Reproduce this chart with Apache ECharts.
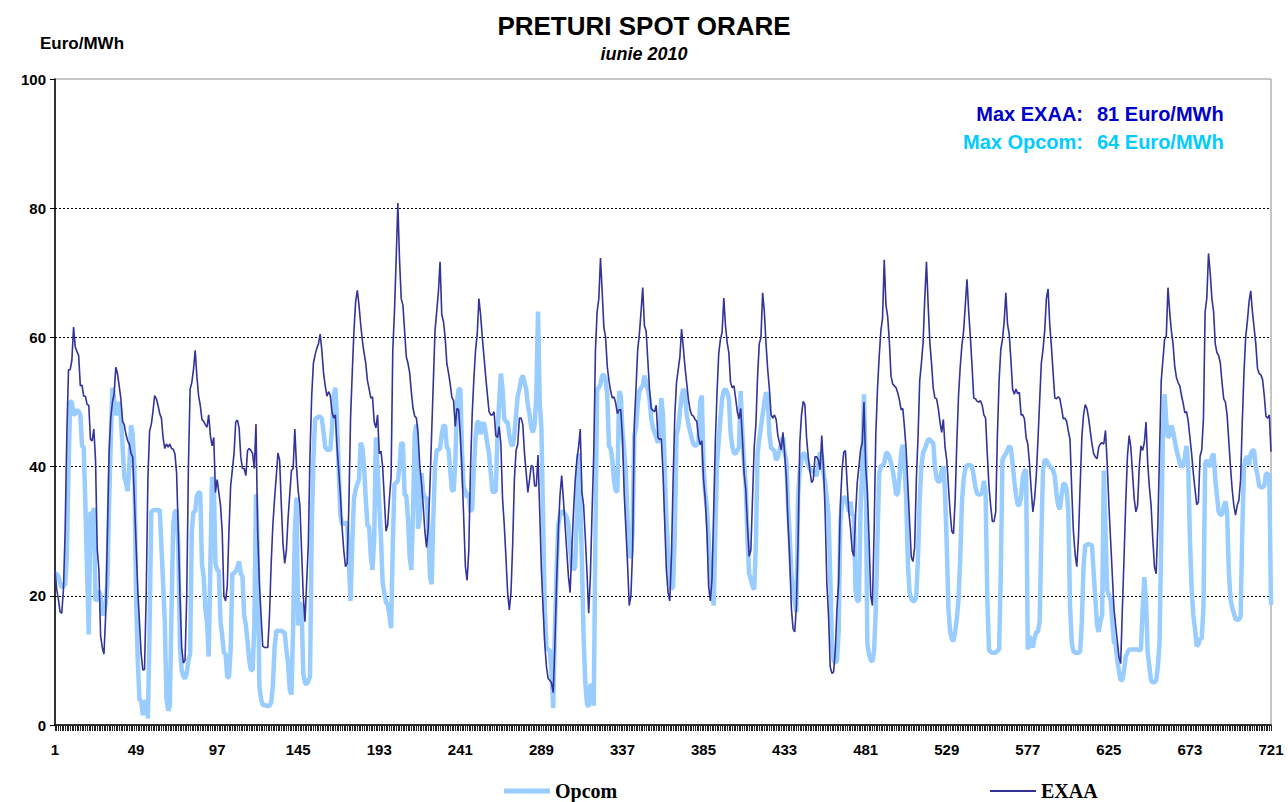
<!DOCTYPE html>
<html>
<head>
<meta charset="utf-8">
<script src="https://cdn.jsdelivr.net/npm/echarts@6/dist/echarts.min.js"></script>
<style>
html,body{margin:0;padding:0;background:#fff;}
#c{width:1288px;height:802px;}
</style>
</head>
<body>
<div id="c"></div>
<script>
// Hourly EXAA prices, June 2010, one row per day (Euro/MWh)
const exaaDays = [
[24,21,19.5,17.5,17.3,21,30,45,55,55,56.5,61.6,58.5,57.8,57.2,52.5,52.6,50.9,50.9,49.6,49.5,44.2,44,45.8],
[41,27.2,24,13.8,12,11,17,29,42,47.5,50,51.2,55.4,54.4,52.5,50.5,47,46.5,45,44,43.5,42,41.5,35],
[28,21,16,11,8.5,8.6,20,38,45.5,46.5,48.5,51,50.5,49.5,48.2,47.5,44.5,42.8,43.5,43,43.5,42.8,42.7,42],
[39,30,20,12,9.6,10,20,40,52,53,55,58,54,51,49.5,47.3,47,46.5,46.1,48,44.8,43.2,44.5,36],
[38,36,34,30,20,19.2,21.5,30,37,39.5,42,46.9,47.2,46,41.5,39.7,39.7,38.6,42.5,42.8,42.5,42,39.7,46.6],
[30,22,17,12.2,12,12,12,17,25,31,35,38.4,42.1,41,34.1,28,25,27,32,35.7,39.4,39.7,45.8,40],
[36.2,34,27,20,16,22,28,42,51,56,57.3,58.3,59,60.5,58,54.5,52.5,50.9,51.6,51,48.5,47.5,48,43],
[39.4,35.5,30.5,27,24.5,25,34,47.5,54.5,61,65.5,67.3,65,62,59.5,57.6,56,53.3,52,50.6,50.8,46.9,46,48],
[42,42.4,40,35,30,31,35,38.4,58,64,72,80.8,72,66,65,61,57,56,54.5,51.5,49,47.8,47.5,45],
[40,37.5,34,30,27.5,30.5,37,45,53,61,64,67,71.7,63.5,62.5,60,56,54.5,52.8,50.7,50.2,46.2,49,48.8],
[44.8,39.4,32,24.5,22.4,27,39.4,48,53.5,58,60.5,66,63.5,60,57,54,51.2,48.5,48,48,48.5,44.8,44.5,46.2],
[43.5,35,31,26,20.5,17.8,20.5,28,38,42.5,43.5,47.5,47.5,46.5,42,39,36,38,40.2,40,37,37,41.8,33],
[24,18,12.5,9,7.2,6.9,6.5,5,12.5,22,30,35.5,38.6,35,31,27,23,20.5,27,33,37.8,41,43,45.8],
[36,34,29,23.5,17.3,23,33,42,58,64,66,72.3,67,61.5,60,55.5,53.3,51.7,50.6,50.8,49.8,48.2,48.8,48.8],
[44.5,36,30.5,25,18.5,20,27,46.5,52,58,60.5,64,67.7,61.8,61,56.5,52,49,48.7,48.5,49.5,44.5,44.2,44.3],
[39,31.4,24,20.5,19.2,26,38,48,53,55,57,61.3,58.5,55.5,53,50.5,48.8,48,47.8,47.3,47,44.5,43.4,44],
[38,35,30,21.5,19.2,22.5,33,44,51.5,57.5,59.7,60.8,66.1,61.8,59.2,57.6,53,52.2,52.5,50.6,48.5,47.4,49,44.5],
[39,36.5,31,26.1,27,35,43,46.5,54,59,60,66.9,64,59,55,52,48,47.5,48,47.3,44.8,43.7,42.6,45.3],
[42.1,38.4,31.4,26,18.1,14.9,14.4,18.5,28.8,43.7,48,50.1,49.6,44.5,41.5,39.3,37.5,38,41.5,41.5,41,39.5,44.8,40],
[33,22,17,9,8,8.2,11.5,18,22,34,39.4,42.2,42.5,37.5,33,30.5,27,26.1,32.5,37.5,40,42.6,43.7,50],
[40,36.2,28.8,20,18.5,30,45,52,57,61,63,72,65,63.3,59.5,54,52.8,52.5,52.2,51.4,50.3,48.8,49,46],
[42.5,37,31.5,26,25.3,27.5,38,44.5,53.3,56,59.2,66.1,71.7,65,59.2,56,52.2,50.6,50.5,49,46.9,45.3,47.3,43],
[41,37,33,30,29.6,35,44,51,55.5,58.8,61,65,69,64,60,55.5,50.6,50.5,50.1,50,50.2,49.5,48,47.5],
[42,37,34,31.5,31.5,33,44.8,53.3,58.1,59.7,62.4,66.9,62,60.5,56.5,52,51.2,52,51.3,51.5,48,48,47.4,44.5],
[43.5,40.5,36.5,33,35,38.5,44,50,56,58.1,61,66,67.5,62,58.5,54.5,50.6,50.5,50.8,50.5,49,47.4,47.5,47],
[45.5,44.2,36.5,30,26.5,24.5,29,37,44.5,48,49.6,49,47.5,45.5,43.5,42,41.5,41.2,43,43.5,43.7,43.5,45.6,40.5],
[34.1,28.8,23.4,18.1,15.4,13,10.5,9.5,18,26,34.5,41.6,44.8,43,39,35,33,34,40,43.2,42.5,43.7,46.9,40.5],
[36.8,34,28.8,24.5,23.4,31,42.1,53.3,56.5,59.7,60.2,67.7,64,61,59,55.5,53.8,53,52.5,51,49.8,48.3,48.5,47],
[44.5,42,39,36.5,34.1,34.5,41.6,42.6,47.4,64,66.1,73,70,66,64,59,57.6,57.2,56,53,50.5,50,48,44],
[40,36.5,34,32.5,34,34.8,38,47,54.5,60,62.5,65.5,67.2,64,61.5,59,55.2,54.4,54.2,53.5,51,47.8,47.5,48],
[42.3]
];

// Hourly Opcom prices, June 2010, one row per day (Euro/MWh)
const opcomDays = [
[23.4,23.4,23,22,21.3,21.5,21.8,26,39.4,50.1,50,48,48.2,48.8,48.5,48,43.2,43,34,23.4,14,33,32,33.6],
[19.2,19.5,20.8,20,17,17.5,18.6,22,34,43.7,52.2,50.5,48,48.5,50,47.5,43.2,38.4,37.5,36.2,40,46.4,45,40],
[20,10,4,3.7,1.5,3.5,3.7,1,15,33,33.2,33.3,33.3,33.2,33.4,27.7,22,16,4,2.2,3,18,31,33],
[33.2,28,12,8.5,7.5,7.2,8,10,11,30,33,33,35.5,36,36,25,23,18,16,10.6,25,38.4,37.5,25],
[24,23.8,16,13.8,11.2,11,7.4,7.4,11.7,23.4,23.5,23.8,24.5,25.3,23.4,23,17,15.5,13,10,8.5,8.5,15,35.7],
[27.7,6,4,3.1,3.1,3,2.9,3,3.5,6,12,14.5,14.6,14.6,14.6,14.4,14.3,11.7,9.5,5.5,4.7,15,30,35.2],
[15.4,19,18,8,6.5,6.3,6.8,7.5,30,41,47.4,47.5,47.7,47.7,47.4,45.3,43,42.6,42.6,42.6,46,51,52.2,47],
[39.4,32.5,31,31.4,31,31.5,25,19.2,28,35,36.5,37.3,38,43.7,43,40,35,30.9,30.7,26,24,28.8,44.5,40],
[34.1,29,22,20.5,19,18.6,17,15,28,37.3,37.5,37.8,40,43.7,43.5,35.7,35.5,32,26,24,33,45,46.5,30.4],
[32,39,36,35.2,35.2,31,23,21.8,32,40,42.5,42.6,42.8,45,46.4,46.2,43,42.6,39.5,36.4,36.2,40.3,50,52],
[52,42.1,36.8,36.2,35.2,36,33,33.5,39.4,44.5,46.9,46.9,45,46.5,46.8,45.3,43.5,42,39,36.2,36,36.3,45,50.1],
[54.4,52,47.4,46.9,46.9,45,43.5,43.2,45,48,51,52,53.5,54.1,53,52,49.5,48,46,45.3,46.5,51,64,50],
[46,32,18,12,11.7,11.5,8,2.6,15,24,31,32.5,33,33,32.6,32.2,31,27.5,24.5,24,24.5,33,42,35],
[25,13.5,6.5,3.3,2.8,6.3,6,3,30,52,52.2,52.8,54.1,54.2,53.5,51,43.2,42.8,41,37.8,36.2,36.2,51.7,51],
[45.5,42.3,39,32,26.1,26.1,30,44.8,46,49.5,51.7,52.2,52.5,54.1,53,52,50.5,47.5,46,45.3,44.5,43.7,45,50.6],
[48,40,32,27,22.5,21,21.5,30,44.8,46,48.5,50.8,52,51.5,48,46.6,45.5,44.3,43.5,43.2,43.4,43.7,50,51],
[40,36,33.5,29,23.5,21,18.5,30,40.5,44,47.5,50.5,51.7,52,51.5,50.5,45.3,43.2,42.1,42,42.5,43,51.7,45],
[40.5,37,29,23.4,22.5,21.5,21,28,42,44.2,46.2,48,50,51.5,50.8,45,42.8,42.7,42.4,41,41.5,42.5,43.5,44.5],
[42,41,34,29.5,23.4,21,19,17.5,35.5,39.5,41,42.1,41.9,41,40.3,39.6,39.4,39.2,39.2,38.5,40.5,42.2,41.8,39],
[37.5,35.2,32.5,23.4,12.8,10.1,9.6,10,14.4,31.4,34.1,35.2,35.2,34.5,33,34.6,32.5,32.5,20.8,19.2,19.2,34.1,39.4,51.2],
[40,12.5,11,10.1,9.8,11.5,18,28.8,38.9,40,40.2,40.5,42.1,42.1,41.5,40.5,39.4,37.8,35.7,35.7,38.4,42.1,43.4,40],
[35,25,20.5,19.5,19.2,19.2,20,26,35,40,42.2,42.7,43.5,44.2,44.2,43.8,43.7,40,38.2,37.6,37.8,39.5,40,36],
[28,18,14.5,13.3,13,14.5,16.5,19.5,26,34.5,38,39.7,40.2,40.2,40.2,40,38.5,36.8,35.8,35.7,35.7,36,37.8,36],
[20,11.7,11.3,11.2,11.2,11.2,11.5,11.7,23.4,41,41.6,42,42.6,43.2,42.8,40.5,37.8,35.7,34.1,34,35.2,38.4,39.4,39.4],
[11.7,13.8,12.5,12,13.5,14.4,14.4,16,28.8,39.4,41,41,40.5,40,39.8,39.4,38.5,35.7,34,33.4,35.5,37.3,37.3,36.5],
[33,18.5,12.8,11.4,11.2,11.2,11.2,11.4,16,24.5,27.8,27.9,28,27.9,27.8,23.5,19.5,15.5,14.4,16,17,39.4,30,20.8],
[20.2,19.5,16,12.8,12.5,10,8.3,6.9,7,8.5,10.6,11.2,11.7,11.7,11.7,11.7,11.7,11.7,11.6,11.7,18.1,22.9,19.2,11.2],
[9,6.9,6.6,6.6,6.9,9,12.8,28.8,44.8,51.2,47,44.5,44.8,46.4,45.5,44,42.6,41.6,40.5,40,40.2,41.5,43.2,40],
[28.8,21,17,14.9,12.2,12.5,13.3,13.5,18.1,40.5,41,40.3,40,41.5,42,38,35.5,33,32.5,32.6,33.8,34.6,33,24],
[19.5,18.2,17.3,16.4,16.3,16.3,16.8,30,40,41.2,41.6,40.2,42,42.5,42.5,39.8,38.7,37,36.8,36.8,37,38.9,38.9,38.4],
[18.6]
];

const seriesNames = ['Opcom', 'EXAA'];
const maxLabels = ['Max EXAA:', 'Max Opcom:'];
const maxValues = ['81 Euro/MWh', '64 Euro/MWh'];
const yTicks = [0, 20, 40, 60, 80, 100];

const exaa = [].concat(...exaaDays);
const opcom = [].concat(...opcomDays);
const hours = [];
for (let i = 1; i <= exaa.length; i++) hours.push(String(i));

const SANS = "'Liberation Sans', Arial, sans-serif";
const SERIF = "'Liberation Serif', 'Times New Roman', serif";

const chart = echarts.init(document.getElementById('c'), null, {renderer: 'svg'});
chart.setOption({
  animation: false,
  backgroundColor: '#ffffff',
  title: [
    {text: 'PRETURI SPOT ORARE', left: 'center', top: 13, padding: 0,
     textStyle: {fontFamily: SANS, fontWeight: 'bold', fontSize: 26, color: '#000'}},
    {text: 'iunie 2010', left: 'center', top: 45, padding: 0,
     textStyle: {fontFamily: SANS, fontWeight: 'bold', fontStyle: 'italic', fontSize: 18, color: '#000'}}
  ],
  grid: {left: 55, right: 17, top: 79, bottom: 77, show: true,
         borderColor: '#8c8c8c', borderWidth: 1, backgroundColor: 'transparent'},
  xAxis: {
    type: 'category', data: hours, boundaryGap: false,
    axisLine: {lineStyle: {color: '#000', width: 1.5}},
    axisTick: {show: true, interval: 0, length: 6, lineStyle: {color: '#222', width: 1}},
    axisLabel: {interval: 47, margin: 17, fontFamily: SANS, fontWeight: 'bold', fontSize: 15, color: '#000'},
    splitLine: {show: false}
  },
  yAxis: {
    type: 'value', min: yTicks[0], max: yTicks[yTicks.length - 1], interval: 20,
    axisLine: {show: true, lineStyle: {color: '#000', width: 1.5}},
    axisTick: {show: true, length: 5, lineStyle: {color: '#000'}},
    axisLabel: {margin: 9, fontFamily: SANS, fontWeight: 'bold', fontSize: 15, color: '#000'},
    splitLine: {show: true, showMinLine: false, showMaxLine: false,
                lineStyle: {color: '#000', type: [2, 2], width: 1}}
  },
  legend: [
    {data: [{name: seriesNames[0], icon: 'rect'}], left: 504, top: 781, padding: 0, itemWidth: 46, itemHeight: 5,
     textStyle: {fontFamily: SERIF, fontWeight: 'bold', fontSize: 20, color: '#000'}},
    {data: [{name: seriesNames[1], icon: 'rect'}], left: 990, top: 781, padding: 0, itemWidth: 46, itemHeight: 2,
     textStyle: {fontFamily: SERIF, fontWeight: 'bold', fontSize: 20, color: '#000'}}
  ],
  graphic: [
    {type: 'text', left: 40, top: 35, style: {text: 'Euro/MWh', font: 'bold 17px ' + SANS, fill: '#000'}},
    {type: 'text', x: 1083, y: 114, style: {text: maxLabels[0], align: 'right', verticalAlign: 'middle', font: 'bold 20px ' + SANS, fill: '#0000CC'}},
    {type: 'text', x: 1097, y: 114, style: {text: maxValues[0], align: 'left', verticalAlign: 'middle', font: 'bold 20px ' + SANS, fill: '#0000CC'}},
    {type: 'text', x: 1083, y: 142, style: {text: maxLabels[1], align: 'right', verticalAlign: 'middle', font: 'bold 20px ' + SANS, fill: '#00CCFF'}},
    {type: 'text', x: 1097, y: 142, style: {text: maxValues[1], align: 'left', verticalAlign: 'middle', font: 'bold 20px ' + SANS, fill: '#00CCFF'}}
  ],
  series: [
    {name: seriesNames[0], type: 'line', data: opcom, showSymbol: false, symbol: 'none', z: 2,
     lineStyle: {color: '#99CCFF', width: 4.5}, itemStyle: {color: '#99CCFF'}},
    {name: seriesNames[1], type: 'line', data: exaa, showSymbol: false, symbol: 'none', z: 3,
     lineStyle: {color: '#333399', width: 1.6}, itemStyle: {color: '#333399'}}
  ]
});
</script>
</body>
</html>
